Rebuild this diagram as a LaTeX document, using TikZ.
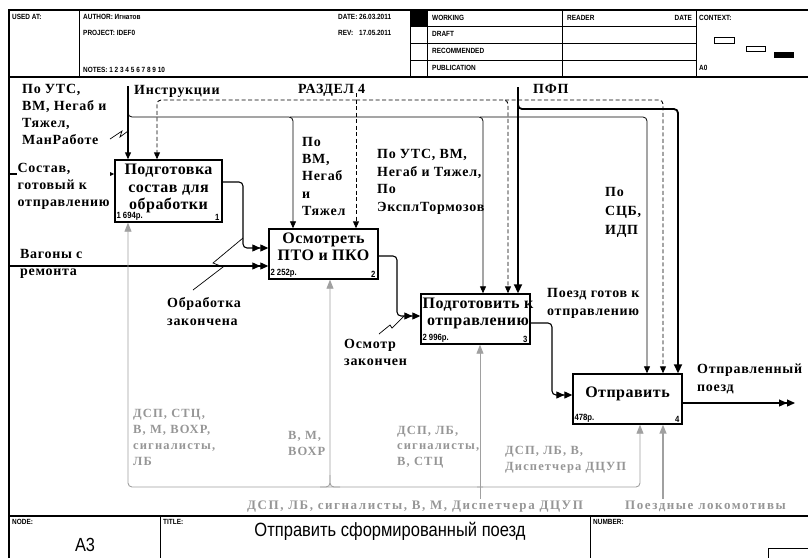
\documentclass[tikz,border=0pt]{standalone}
\usepackage{fontspec}
\setmainfont{Liberation Serif}
\newfontfamily\lblfont[LetterSpace=5]{Liberation Serif}
\newfontfamily\boxfont[LetterSpace=3]{Liberation Serif}
\newfontfamily\glfont[LetterSpace=9]{Liberation Serif}
\newfontfamily\gbfont[LetterSpace=12]{Liberation Serif}
\newfontfamily\hdrfont[FakeStretch=0.86]{Liberation Sans}
\usetikzlibrary{arrows.meta}
\definecolor{mgray}{RGB}{160,160,160}
\definecolor{tgray}{RGB}{150,150,150}
\tikzset{
  lbl/.style={font=\lblfont\bfseries\fontsize{14}{17}\selectfont, align=left, inner sep=0pt, anchor=north west},
  glbl/.style={font=\glfont\bfseries\fontsize{12.5}{16}\selectfont, text=tgray, align=left, inner sep=0pt, anchor=north west},
  gblbl/.style={font=\gbfont\bfseries\fontsize{13}{16}\selectfont, text=tgray, align=left, inner sep=0pt, anchor=north west},
  btxt/.style={font=\boxfont\bfseries\fontsize{16}{17.5}\selectfont, align=center, inner sep=0pt},
  procbox/.style={draw, line width=1.4pt, inner sep=0pt, fill=white},
  hdr/.style={font=\hdrfont\bfseries\fontsize{7.5}{8}\selectfont, inner sep=0pt, anchor=west},
  small/.style={font=\hdrfont\bfseries\fontsize{9}{9}\selectfont, inner sep=0pt},
  frm/.style={line width=1.2pt},
  conn/.style={line width=1.1pt, rounded corners=4pt},
  thinc/.style={line width=0.8pt, rounded corners=4pt},
  boldc/.style={line width=1.8pt, rounded corners=4pt},
  dashc/.style={line width=0.9pt, dash pattern=on 4pt off 2.5pt, rounded corners=4pt},
  mech/.style={line width=0.9pt, draw=mgray, rounded corners=4pt},
  carrow/.style={-{Triangle[length=7pt,width=6pt]}},
  barrow/.style={-{Triangle[length=9pt,width=8pt]}},
  garrow/.style={-{Triangle[length=9pt,width=7pt]}},
  darrow/.style={-{Triangle[length=8pt,width=7pt]Triangle[length=8pt,width=7pt]}},
  zig/.style={line width=0.7pt},
}
\begin{document}
\begin{tikzpicture}[x=1pt,y=-1pt]
\useasboundingbox (0,0) rectangle (808,558);
% ---------- frame and header ----------
\draw[frm] (9,558) -- (9,10) -- (808,10);
\draw[frm] (9,77) -- (808,77);
\draw[frm] (9,516) -- (808,516);
\draw[line width=0.9pt] (79,10) -- (79,77);
\draw[line width=0.9pt] (410,10) -- (410,77);
\draw[line width=0.9pt] (427,10) -- (427,77);
\draw[line width=0.9pt] (562,10) -- (562,77);
\draw[line width=0.9pt] (696,10) -- (696,77);
\draw[line width=0.9pt] (410,26) -- (696,26);
\draw[line width=0.9pt] (410,43) -- (696,43);
\draw[line width=0.9pt] (410,60) -- (696,60);
\fill (410,10) rectangle (427,26);
\draw[line width=0.8pt] (714,37) rectangle (734,43);
\draw[line width=0.8pt] (746,46) rectangle (765,51);
\fill (774,52) rectangle (794,58);
\node[hdr] (usedat) at (12,17) {USED AT:};
\node[hdr] (author) at (83,17) {AUTHOR: Игнатов};
\node[hdr] (project) at (83,33) {PROJECT: IDEF0};
\node[hdr] (notes) at (83,70) {NOTES: 1 2 3 4 5 6 7 8 9 10};
\node[hdr] (datel) at (338,17) {DATE:};
\node[hdr] (datev) at (359,17) {26.03.2011};
\node[hdr] (revl) at (338,33) {REV:};
\node[hdr] (revv) at (359,33) {17.05.2011};
\node[hdr] (working) at (432,18) {WORKING};
\node[hdr] (draft) at (432,34) {DRAFT};
\node[hdr] (recom) at (432,51) {RECOMMENDED};
\node[hdr] (publ) at (432,68) {PUBLICATION};
\node[hdr] (reader) at (567,18) {READER};
\node[hdr, anchor=east] (rdate) at (692,18) {DATE};
\node[hdr] (context) at (699,18) {CONTEXT:};
\node[hdr] (azero) at (699,68) {A0};
% ---------- footer ----------
\draw[line width=0.9pt] (160,516) -- (160,558);
\draw[line width=0.9pt] (590,516) -- (590,558);
\draw[line width=0.9pt] (768,548) -- (768,558) (768,548) -- (808,548);
\node[hdr] (nodel) at (12,522) {NODE:};
\node[hdr] (titlel) at (163,522) {TITLE:};
\node[hdr] (numl) at (593,522) {NUMBER:};
\node[font=\hdrfont\fontsize{19.2}{20}\selectfont, inner sep=0pt] (title) at (390,531) {Отправить сформированный поезд};
\node[font=\hdrfont\fontsize{19}{20}\selectfont, inner sep=0pt] (nodeid) at (85,545) {A3};
% ---------- boxes ----------
\node[procbox, minimum width=107pt, minimum height=62pt] (b1) at (168.5,191) {};
\node[procbox, minimum width=109pt, minimum height=50pt] (b2) at (323.5,254) {};
\node[procbox, minimum width=109pt, minimum height=50pt] (b3) at (475.5,319) {};
\node[procbox, minimum width=109pt, minimum height=50pt] (b4) at (627.5,399) {};
\node[btxt, anchor=north] (b1t) at (168.5,164) {Подготовка\\состав для\\обработки};
\node[btxt, anchor=north] (b2t) at (323.5,232.5) {Осмотреть\\ПТО и ПКО};
\node[btxt, anchor=north] (b3t) at (478,297.5) {Подготовить к\\отправлению};
\node[btxt] (b4t) at (627.5,394) {Отправить};
\node[small, anchor=south west] (b1c) at ([shift={(2pt,2pt)}]b1.south west) {1 694р.};
\node[small, anchor=south east] (b1n) at ([shift={(-3pt,2pt)}]b1.south east) {1};
\node[small, anchor=south west] (b2c) at ([shift={(2pt,2pt)}]b2.south west) {2 252р.};
\node[small, anchor=south east] (b2n) at ([shift={(-3pt,2pt)}]b2.south east) {2};
\node[small, anchor=south west] (b3c) at ([shift={(2pt,2pt)}]b3.south west) {2 996р.};
\node[small, anchor=south east] (b3n) at ([shift={(-3pt,2pt)}]b3.south east) {3};
\node[small, anchor=south west] (b4c) at ([shift={(2pt,2pt)}]b4.south west) {478р.};
\node[small, anchor=south east] (b4n) at ([shift={(-3pt,2pt)}]b4.south east) {4};
% ---------- source / sink coordinates ----------
\coordinate (insSrc) at (128,86);
\coordinate (razSrc) at (356,93);
\coordinate (pfpSrc) at (518,87);
\coordinate (sostSrc) at (10,174);
\coordinate (vagSrc) at (10,266);
\coordinate (outSink) at (795,403);
\coordinate (mechSrc) at (480,499);
\coordinate (lokSrc) at (663,499);
% ---------- controls ----------
\draw[conn, carrow] (insSrc) -- (128,0 |- b1.north);
\draw[thinc, carrow] (128,108) -- (128,117) -- (293,117) -- (293,0 |- b2.north);
\draw[thinc, carrow] (290,117) -- (483,117) -- (483,0 |- b3.north);
\draw[thinc, carrow] (480,117) -- (647,117) -- (647,0 |- b4.north);
\draw[dashc, carrow] (razSrc) -- (356,0 |- b2.north);
\draw[dashc, carrow] (356,100) -- (157,100) -- (157,0 |- b1.north);
\draw[dashc, carrow] (356,100) -- (508,100) -- (508,0 |- b3.north);
\draw[dashc, carrow] (505,100) -- (663,100) -- (663,0 |- b4.north);
\draw[boldc, barrow] (pfpSrc) -- (518,0 |- b3.north);
\draw[boldc, barrow] (518,100) -- (518,109) -- (678,109) -- (678,0 |- b4.north);
% ---------- inputs / outputs ----------
\draw[conn, darrow] (sostSrc) -- (b1.west |- 0,174);
\draw[conn, darrow] (vagSrc) -- (b2.west |- 0,266);
\draw[conn, darrow] (b1.east |- 0,182) -- (243,182) -- (243,248) -- (b2.west |- 0,248);
\draw[conn, darrow] (b2.east |- 0,256) -- (397,256) -- (397,316) -- (b3.west |- 0,316);
\draw[conn, darrow] (b3.east |- 0,323) -- (552,323) -- (552,395) -- (b4.west |- 0,395);
\draw[conn, darrow] (b4.east |- 0,403) -- (outSink);
% ---------- mechanisms ----------
\draw[mech, garrow] (mechSrc) -- (480,0 |- b3.south);
\draw[mech, garrow] (483,487) -- (128,487) -- (128,0 |- b1.south);
\draw[mech, garrow] (477,487) -- (640,487) -- (640,0 |- b4.south);
\draw[mech, garrow] (320,487) -- (330,487) -- (330,0 |- b2.south);
\draw[mech] (340,487) -- (330,487) -- (330,475);
\draw[mech, line width=1.5pt, garrow] (lokSrc) -- (663,0 |- b4.south);
% ---------- squiggles ----------
\draw[zig] (110,139) -- (122,131) -- (120,137) -- (128,131);
\draw[zig] (193,290) -- (223,267) -- (213,263) -- (243,238);
\draw[zig] (379,334) -- (390,325) -- (392,328) -- (404,316);
% ---------- labels ----------
\node[lbl] (lUTS) at (22,84) {По УТС,\\ВМ, Негаб и\\Тяжел,\\МанРаботе};
\node[lbl] (lIns) at (134,85) {Инструкции};
\node[lbl] (lRaz) at (298,84) {РАЗДЕЛ 4};
\node[lbl] (lPfp) at (533,84) {ПФП};
\node[lbl, fill=white, inner sep=0.5pt] (lSost) at (17,163) {Состав,\\готовый к\\отправлению};
\node[lbl] (lVag) at (20,249) {Вагоны с\\ремонта};
\node[lbl, font=\lblfont\bfseries\fontsize{14}{17.3}\selectfont] (lVM) at (302,137) {По\\ВМ,\\Негаб\\и\\Тяжел};
\node[lbl, font=\lblfont\bfseries\fontsize{14}{17.7}\selectfont] (lUTS2) at (377,149) {По УТС, ВМ,\\Негаб и Тяжел,\\По\\ЭксплТормозов};
\node[lbl, font=\lblfont\bfseries\fontsize{14}{19}\selectfont] (lSCB) at (605,187) {По\\СЦБ,\\ИДП};
\node[lbl, font=\lblfont\bfseries\fontsize{14}{18}\selectfont] (lObr) at (167,297) {Обработка\\закончена};
\node[lbl] (lOsm) at (344,339) {Осмотр\\закончен};
\node[lbl, font=\lblfont\bfseries\fontsize{14}{18}\selectfont] (lGot) at (547,288) {Поезд готов к\\отправлению};
\node[lbl, font=\lblfont\bfseries\fontsize{14}{18}\selectfont] (lOut) at (697,364) {Отправленный\\поезд};
\node[glbl] (g1) at (133,409) {ДСП, СТЦ,\\В, М, ВОХР,\\сигналисты,\\ЛБ};
\node[glbl] (g2) at (288,431) {В, М,\\ВОХР};
\node[glbl, font=\glfont\bfseries\fontsize{12.5}{15.5}\selectfont] (g3) at (397,426) {ДСП, ЛБ,\\сигналисты,\\В, СТЦ};
\node[glbl] (g4) at (505,446) {ДСП, ЛБ, В,\\Диспетчера ДЦУП};
\node[gblbl] (g5) at (247,501) {ДСП, ЛБ, сигналисты, В, М, Диспетчера ДЦУП};
\node[gblbl] (g6) at (625,501) {Поездные локомотивы};
\end{tikzpicture}
\end{document}
